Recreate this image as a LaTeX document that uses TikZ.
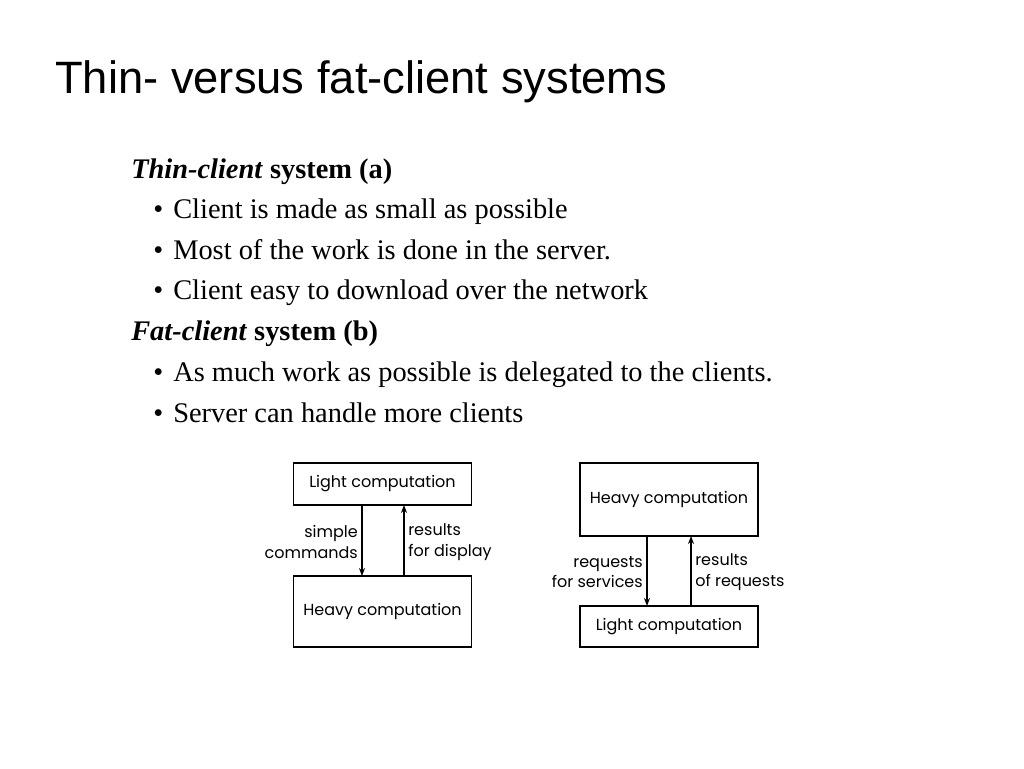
\documentclass[tikz,border=0pt]{standalone}
\usepackage{fontspec}
\setmainfont{Liberation Serif}
\newfontfamily\titlefont{Liberation Sans}
\newfontfamily\diafont{Poppins}
\usetikzlibrary{arrows.meta}
\begin{document}
\begin{tikzpicture}[x=0.75pt,y=-0.75pt,
  titletext/.style={anchor=base west,inner sep=0pt,font=\titlefont\fontsize{34}{40}\selectfont},
  bodytext/.style={anchor=base west,inner sep=0pt,font=\fontsize{21.3}{25}\selectfont},
  bul/.style={anchor=base west,inner sep=0pt,font=\fontsize{21.3}{25}\selectfont},
  box/.style={draw,line width=0.9pt,inner sep=0pt,font=\diafont\fontsize{12}{14}\selectfont},
  lbl/.style={inner sep=0pt,font=\diafont\fontsize{12}{15.5}\selectfont},
  arr/.style={line width=0.9pt,-{Stealth[length=6pt,width=4.5pt]}}]
\useasboundingbox (0,0) rectangle (1024,768);
\node[titletext] (title) at (55,93) {Thin- versus fat-client systems};
\node[bodytext] (h1) at (131,178) {\textbf{\textit{Thin-client}} \textbf{system (a)}};
\node[bul] (b1) at (153,218) {•};
\node[bodytext] (t1) at (173,218) {Client is made as small as possible};
\node[bul] (b2) at (153,259) {•};
\node[bodytext] (t2) at (173,259) {Most of the work is done in the server.};
\node[bul] (b3) at (153,299) {•};
\node[bodytext] (t3) at (173,299) {Client easy to download over the network};
\node[bodytext] (h2) at (131,340) {\textbf{\textit{Fat-client}} \textbf{system (b)}};
\node[bul] (b4) at (153,381) {•};
\node[bodytext] (t4) at (173,381) {As much work as possible is delegated to the clients.};
\node[bul] (b5) at (153,422) {•};
\node[bodytext] (t5) at (173,422) {Server can handle more clients};
% left diagram
\node[box,minimum width=134pt,minimum height=31.5pt] (lt) at (382.5,484) {Light computation};
\node[box,minimum width=134pt,minimum height=53.25pt] (lb) at (382.5,611.5) {Heavy computation};
\coordinate (la1) at (362,505);
\coordinate (la2) at (362,576);
\coordinate (lu1) at (404,576);
\coordinate (lu2) at (404,505);
\draw[arr] (la1) -- (la2);
\draw[arr] (lu1) -- (lu2);
\node[lbl,anchor=east,align=right] (l1) at (358,542) {simple\\commands};
\node[lbl,anchor=west,align=left] (l2) at (408,542) {results\\for display};
% right diagram
\node[box,minimum width=133.5pt,minimum height=54.75pt] (rt) at (669,499.5) {Heavy computation};
\node[box,minimum width=133.5pt,minimum height=30.75pt] (rb) at (669,626.5) {Light computation};
\coordinate (ra1) at (647,536);
\coordinate (ra2) at (647,606);
\coordinate (ru1) at (691,606);
\coordinate (ru2) at (691,536);
\draw[arr] (ra1) -- (ra2);
\draw[arr] (ru1) -- (ru2);
\node[lbl,anchor=east,align=right] (r1) at (643,572) {requests\\for services};
\node[lbl,anchor=west,align=left] (r2) at (695,572) {results\\of requests};
\end{tikzpicture}
\end{document}
